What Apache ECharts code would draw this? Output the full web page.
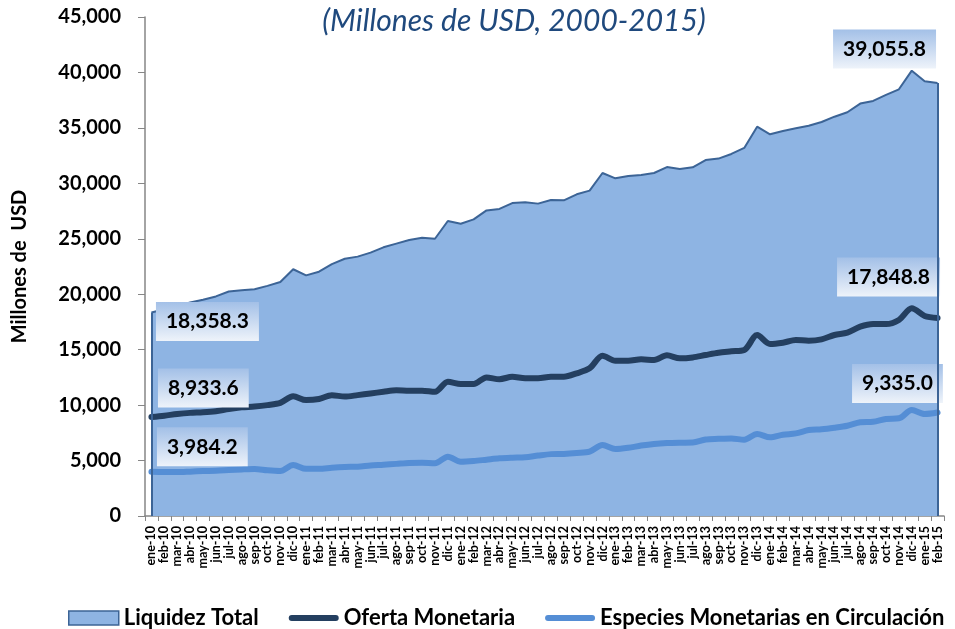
<!DOCTYPE html>
<html>
<head>
<meta charset="utf-8">
<script src="https://cdn.jsdelivr.net/npm/echarts@6/dist/echarts.min.js"></script>
<style>
html,body{margin:0;padding:0;background:#fff;}
#chart{width:955px;height:629px;}
</style>
</head>
<body>
<div id="chart"></div>
<script>
// ---- Data ----
var categories = [
  'ene-10','feb-10','mar-10','abr-10','may-10','jun-10','jul-10','ago-10','sep-10','oct-10','nov-10','dic-10',
  'ene-11','feb-11','mar-11','abr-11','may-11','jun-11','jul-11','ago-11','sep-11','oct-11','nov-11','dic-11',
  'ene-12','feb-12','mar-12','abr-12','may-12','jun-12','jul-12','ago-12','sep-12','oct-12','nov-12','dic-12',
  'ene-13','feb-13','mar-13','abr-13','may-13','jun-13','jul-13','ago-13','sep-13','oct-13','nov-13','dic-13',
  'ene-14','feb-14','mar-14','abr-14','may-14','jun-14','jul-14','ago-14','sep-14','oct-14','nov-14','dic-14',
  'ene-15','feb-15'
];
var liquidezTotal = [
  18358.3, 18650, 18950, 19250, 19500, 19800, 20250, 20350, 20450, 20750, 21100, 22250,
  21700, 22030, 22720, 23200, 23390, 23750, 24230, 24560, 24890, 25100, 25000, 26600,
  26360, 26750, 27560, 27690, 28220, 28290, 28170, 28500, 28470, 29010, 29340, 30930,
  30450, 30660, 30750, 30930, 31470, 31290, 31440, 32100, 32230, 32650, 33190, 35110,
  34420, 34720, 34960, 35200, 35530, 36010, 36410, 37190, 37430, 37970, 38480, 40160,
  39200, 39055.8
];
var ofertaMonetaria = [
  8933.6, 9050, 9200, 9300, 9350, 9450, 9650, 9800, 9870, 10000, 10200, 10800,
  10450, 10550, 10900, 10770, 10900, 11050, 11200, 11330, 11300, 11300, 11200, 12100,
  11900, 11900, 12500, 12330, 12560, 12420, 12420, 12560, 12560, 12870, 13320, 14450,
  14000, 14000, 14130, 14070, 14490, 14220, 14300, 14520, 14730, 14850, 14970, 16320,
  15510, 15630, 15870, 15810, 15930, 16320, 16530, 17070, 17310, 17310, 17680, 18730,
  18040, 17848.8
];
var especiesMonetarias = [
  3984.2, 3960, 3960, 4000, 4050, 4080, 4140, 4200, 4240, 4120, 4060, 4600,
  4250, 4250, 4350, 4420, 4450, 4550, 4620, 4700, 4780, 4800, 4750, 5350,
  4900, 4960, 5080, 5200, 5260, 5300, 5450, 5580, 5600, 5680, 5800, 6400,
  6040, 6150, 6350, 6500, 6580, 6610, 6620, 6900, 6960, 7000, 6870, 7400,
  7100, 7330, 7450, 7750, 7820, 7960, 8140, 8450, 8500, 8750, 8810, 9560,
  9200, 9335.0
];
var seriesNames = ['Liquidez Total', 'Oferta Monetaria', 'Especies Monetarias en Circulación'];
var titleText = '(Millones de USD, 2000-2015)';
var yAxisName = 'Millones de  USD';
var yTicks = { min: 0, max: 45000, interval: 5000 };

// ---- Styling helpers ----
var FONT = 'Lato, "Open Sans", "Liberation Sans", sans-serif';
function fmt(v) {
  return Number(v).toLocaleString('en-US', { minimumFractionDigits: 1, maximumFractionDigits: 1 });
}
var boxBg = {
  type: 'linear', x: 0, y: 0, x2: 0, y2: 1,
  colorStops: [{ offset: 0, color: '#a3c0e7' }, { offset: 1, color: '#eef3fa' }]
};
function labelled(arr, firstPos, lastPos) {
  return arr.map(function (v, i) {
    if (i === 0 || i === arr.length - 1) {
      return {
        value: v,
        symbol: 'circle',
        symbolSize: 1,
        label: {
          show: true,
          position: i === 0 ? firstPos : lastPos,
          formatter: function (p) { return fmt(p.value); }
        }
      };
    }
    return v;
  });
}
var baseLabel = {
  show: false,
  fontFamily: FONT,
  fontSize: 21,
  fontWeight: 'bold',
  color: '#000',
  backgroundColor: boxBg,
  padding: [7, 10, 7, 10],
  lineHeight: 25
};
var lineIcon = 'path://M3,0 L47,0 A3,3 0 0 1 47,6 L3,6 A3,3 0 0 1 3,0 Z';

var chart = echarts.init(document.getElementById('chart'), null, { renderer: 'canvas' });
var option = {
  animation: false,
  backgroundColor: '#ffffff',
  title: {
    text: titleText,
    left: 509,
    textAlign: 'center',
    top: 1,
    textStyle: { fontFamily: FONT, fontSize: 30, fontStyle: 'italic', fontWeight: 'normal', color: '#1f497d' }
  },
  legend: {
    left: 63,
    top: 602,
    itemWidth: 50,
    itemHeight: 14,
    itemGap: 30,
    symbolKeepAspect: true,
    textStyle: { fontFamily: FONT, fontSize: 22, fontWeight: 'bold', color: '#000' },
    data: [
      { name: seriesNames[0], icon: 'rect', itemStyle: { color: '#8eb4e3', borderColor: '#3c6496', borderWidth: 1.5 } },
      { name: seriesNames[1], icon: lineIcon, itemStyle: { color: '#243f60', borderWidth: 0 } },
      { name: seriesNames[2], icon: lineIcon, itemStyle: { color: '#558ed5', borderWidth: 0 } }
    ]
  },
  grid: { left: 145, right: 11, top: 17, bottom: 113, containLabel: false },
  xAxis: {
    type: 'category',
    data: categories,
    boundaryGap: true,
    axisLine: { lineStyle: { color: '#868686', width: 1.5 } },
    axisTick: { show: true, interval: 0, length: 5, lineStyle: { color: '#868686' } },
    axisLabel: {
      interval: 0, rotate: 90, margin: 10,
      fontFamily: FONT, fontSize: 12.5, fontWeight: 'bold', color: '#000'
    },
    splitLine: { show: false }
  },
  yAxis: {
    type: 'value',
    min: yTicks.min, max: yTicks.max, interval: yTicks.interval,
    name: yAxisName,
    nameLocation: 'middle',
    nameGap: 115,
    nameTextStyle: { fontFamily: FONT, fontSize: 20, fontWeight: 'bold', color: '#000' },
    axisLine: { show: true, lineStyle: { color: '#868686', width: 1.5 } },
    axisTick: { show: true, length: 7, lineStyle: { color: '#868686' } },
    axisLabel: {
      margin: 24,
      fontFamily: FONT, fontSize: 20, fontWeight: 'bold', color: '#000',
      formatter: function (v) { return Number(v).toLocaleString('en-US'); }
    },
    splitLine: { show: false }
  },
  series: [
    {
      name: seriesNames[0],
      type: 'line',
      symbol: 'none',
      showAllSymbol: true,
      data: labelled(liquidezTotal, [5, -10], [-104, -53]),
      itemStyle: { color: '#8eb4e3' },
      lineStyle: { color: '#3c6496', width: 2 },
      areaStyle: { color: '#8eb4e3', opacity: 1 },
      label: baseLabel,
      z: 1,
      markLine: {
        silent: true,
        symbol: 'none',
        label: { show: false },
        lineStyle: { color: '#3c6496', width: 2, type: 'solid' },
        data: [
          [{ coord: [categories[0], 0] }, { coord: [categories[0], liquidezTotal[0]] }],
          [{ coord: [categories[categories.length - 1], 0] }, { coord: [categories[categories.length - 1], liquidezTotal[liquidezTotal.length - 1]] }]
        ]
      }
    },
    {
      name: seriesNames[1],
      type: 'line',
      symbol: 'none',
      showAllSymbol: true,
      smooth: 0.3,
      data: labelled(ofertaMonetaria, [7, -48], [-100, -60]),
      itemStyle: { color: '#243f60' },
      lineStyle: { color: '#243f60', width: 6, cap: 'round', join: 'round' },
      label: baseLabel,
      z: 3
    },
    {
      name: seriesNames[2],
      type: 'line',
      symbol: 'none',
      showAllSymbol: true,
      smooth: 0.3,
      data: labelled(especiesMonetarias, [6, -44], [-85, -48]),
      itemStyle: { color: '#558ed5' },
      lineStyle: { color: '#558ed5', width: 6, cap: 'round', join: 'round' },
      label: baseLabel,
      z: 3
    }
  ]
};
chart.setOption(option);
</script>
</body>
</html>
